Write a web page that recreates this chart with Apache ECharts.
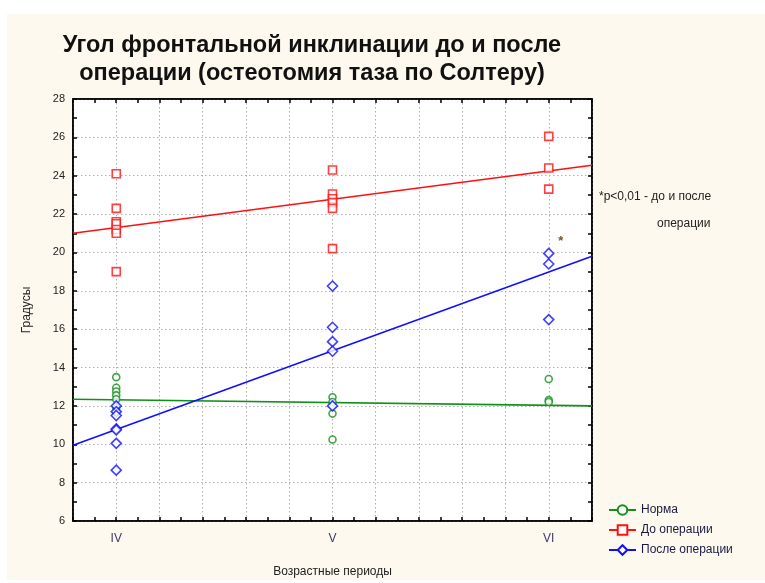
<!DOCTYPE html>
<html>
<head>
<meta charset="utf-8">
<script src="https://cdn.jsdelivr.net/npm/echarts@6/dist/echarts.min.js"></script>
<style>
html,body{margin:0;padding:0;background:#fff;}
#c{width:765px;height:583px;}
</style>
</head>
<body>
<div id="c"></div>
<script>
// Category positions: IV=1, V=2, VI=3
const categories = ['IV', 'V', 'VI'];
const yTicks = [6, 8, 10, 12, 14, 16, 18, 20, 22, 24, 26, 28];

// Норма
const normaIV = [13.5, 12.95, 12.75, 12.55, 12.35, 11.9];
const normaV = [12.45, 12.2, 11.6, 10.25];
const normaVI = [13.4, 12.3, 12.2];
// До операции
const beforeIV = [24.1, 22.3, 21.6, 21.5, 21.2, 21.0, 19.0];
const beforeV = [24.3, 23.05, 22.8, 22.6, 22.3, 20.2];
const beforeVI = [26.05, 24.4, 23.3];
// После операции
const afterIV = [12.0, 11.7, 11.5, 10.8, 10.75, 10.05, 8.65];
const afterV = [18.25, 16.1, 15.35, 14.85, 12.0];
const afterVI = [19.95, 19.4, 16.5];

// Fitted lines: [x, y] at ends
const fitNorma = [[0.8, 12.35], [3.2, 12.0]];
const fitBefore = [[0.8, 21.0], [3.2, 24.55]];
const fitAfter = [[0.8, 9.95], [3.2, 19.8]];

function pts(arrs) {
  const out = [];
  arrs.forEach((a, i) => a.forEach(v => out.push([i + 1, v])));
  return out;
}

const GREEN = '#13901a', RED = '#ff1010', BLUE = '#1010ff';
const FONT = '"Liberation Sans", Arial, sans-serif';
const chart = echarts.init(document.getElementById('c'));

function xLabel(v) {
  for (let i = 0; i < categories.length; i++) {
    if (Math.abs(v - (i + 1)) < 1e-6) return categories[i];
  }
  return '';
}

const xBase = {
  type: 'value', min: 0.8, max: 3.2, interval: 0.2,
  axisLine: { show: true, onZero: false, lineStyle: { color: '#000', width: 1.5 } },
  axisTick: { show: true, inside: true, length: 4, lineStyle: { color: '#000', width: 1.5 } },
  minorTick: { show: true, splitNumber: 2, length: 4, lineStyle: { color: '#000', width: 1.5 } },
  splitLine: { show: true, lineStyle: { color: '#b0b0b0', type: [1.5, 2.5], width: 1 } }
};
const yBase = {
  type: 'value', min: 6, max: 28, interval: 2,
  axisLine: { show: true, onZero: false, lineStyle: { color: '#000', width: 1.5 } },
  axisTick: { show: true, inside: true, length: 4, lineStyle: { color: '#000', width: 1.5 } },
  minorTick: { show: true, splitNumber: 2, length: 4, lineStyle: { color: '#000', width: 1.5 } },
  splitLine: { show: true, lineStyle: { color: '#b0b0b0', type: [1.5, 2.5], width: 1 } }
};

function scatter(name, data, symbol, size, color) {
  return {
    name: name, type: 'scatter', data: data, symbol: symbol, symbolSize: size,
    itemStyle: { color: '#fff', borderColor: color, borderWidth: 1.6 },
    z: 3
  };
}
function fit(name, data, color, symbol) {
  return {
    name: name, type: 'line', data: data, showSymbol: false, symbol: symbol, symbolSize: 6,
    itemStyle: { color: '#fff', borderColor: color, borderWidth: 1.5 },
    lineStyle: { color: color, width: 1.6 }, silent: true, z: 2
  };
}

chart.setOption({
  animation: false,
  backgroundColor: '#fff',
  graphic: [
    { type: 'rect', shape: { x: 7, y: 14, width: 760, height: 566 }, style: { fill: '#fdf9ef' }, z: -10, silent: true },
    { type: 'text', left: 599, top: 191, style: { text: '*p<0,01 - до и после', font: '12px "Liberation Sans", Arial, sans-serif', fill: '#222' } },
    { type: 'text', left: 657, top: 218, style: { text: 'операции', font: '12px "Liberation Sans", Arial, sans-serif', fill: '#222' } }
  ],
  title: {
    text: 'Угол фронтальной инклинации до и после\nоперации (остеотомия таза по Солтеру)',
    left: 307, top: 27, textAlign: 'center',
    textStyle: { fontFamily: FONT, fontSize: 23.5, fontWeight: 'bold', color: '#111', lineHeight: 28 }
  },
  grid: { left: 73, top: 99, right: 173, bottom: 61, show: true, backgroundColor: '#fff', borderColor: '#000', borderWidth: 1.5 },
  legend: {
    orient: 'vertical', left: 603, top: 499, itemGap: 8, itemWidth: 27, itemHeight: 12,
    data: ['Норма', 'До операции', 'После операции'],
    textStyle: { fontFamily: FONT, fontSize: 12, color: '#1a1a40' }
  },
  xAxis: [
    Object.assign({}, xBase, {
      position: 'bottom',
      name: 'Возрастные периоды', nameLocation: 'middle', nameGap: 45,
      nameTextStyle: { fontFamily: FONT, fontSize: 12, color: '#222' },
      axisLabel: { formatter: xLabel, margin: 12, fontFamily: FONT, fontSize: 12, color: '#3a3a6a' }
    }),
    Object.assign({}, xBase, { position: 'top', axisLabel: { show: false }, splitLine: { show: false } })
  ],
  yAxis: [
    Object.assign({}, yBase, {
      position: 'left',
      name: 'Градусы', nameLocation: 'middle', nameGap: 40, nameRotate: 90,
      nameTextStyle: { fontFamily: FONT, fontSize: 12, color: '#222' },
      axisLabel: { margin: 8, fontFamily: FONT, fontSize: 11, color: '#222' }
    }),
    Object.assign({}, yBase, { position: 'right', axisLabel: { show: false }, splitLine: { show: false } })
  ],
  series: [
    fit('Норма', fitNorma, GREEN, 'circle'),
    fit('До операции', fitBefore, RED, 'rect'),
    fit('После операции', fitAfter, BLUE, 'diamond'),
    scatter('Норма', pts([normaIV, normaV, normaVI]), 'circle', 7, GREEN),
    scatter('До операции', pts([beforeIV, beforeV, beforeVI]), 'rect', 8, RED),
    Object.assign(scatter('После операции', pts([afterIV, afterV, afterVI]), 'diamond', 10, BLUE), {
      markPoint: {
        symbol: 'circle', symbolSize: 1, itemStyle: { color: 'transparent', borderWidth: 0 },
        data: [{ coord: [3.056, 20.6], label: { show: true, formatter: '*', position: 'inside', fontSize: 13, fontWeight: 'bold', color: '#6b5a2a' } }]
      }
    })
  ]
});
</script>
</body>
</html>
